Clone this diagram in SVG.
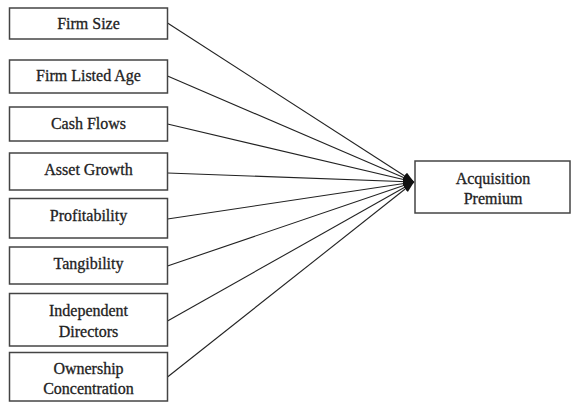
<svg xmlns="http://www.w3.org/2000/svg" width="571" height="403" viewBox="0 0 571 403">
  <style>
    .box { fill: #ffffff; stroke: #444444; stroke-width: 1.5; }
    .lbl { font-family: "Liberation Serif", "Times New Roman", serif; font-size: 16px; fill: #222222; stroke: #222222; stroke-width: 0.3; text-anchor: middle; }
    .edge { stroke: #222222; stroke-width: 1.1; fill: none; marker-end: url(#arrow); }
  </style>
  <defs>
    <marker id="arrow" markerUnits="userSpaceOnUse" markerWidth="12" markerHeight="10" refX="11" refY="4" orient="auto">
      <path d="M0,0 L11,4 L0,8 Z" fill="#111111"/>
    </marker>
  </defs>
  <rect width="571" height="403" fill="#ffffff"/>

  <g id="connectors">
    <line class="edge" x1="167.5" y1="23" x2="414" y2="182"/>
    <line class="edge" x1="167.5" y1="76" x2="414" y2="182"/>
    <line class="edge" x1="167.5" y1="124" x2="414" y2="182"/>
    <line class="edge" x1="167.5" y1="173" x2="414" y2="182"/>
    <line class="edge" x1="167.5" y1="219" x2="414" y2="182"/>
    <line class="edge" x1="167.5" y1="266" x2="414" y2="182"/>
    <line class="edge" x1="167.5" y1="321" x2="414" y2="182"/>
    <line class="edge" x1="167.5" y1="377" x2="414" y2="182"/>
  </g>

  <g id="firm-size">
    <rect class="box" x="9.5" y="8" width="158" height="31"/>
    <text class="lbl" x="88.5" y="29">Firm Size</text>
  </g>
  <g id="firm-listed-age">
    <rect class="box" x="9.5" y="60" width="158" height="33"/>
    <text class="lbl" x="88.5" y="81">Firm Listed Age</text>
  </g>
  <g id="cash-flows">
    <rect class="box" x="9.5" y="107" width="158" height="34"/>
    <text class="lbl" x="88.5" y="128.5">Cash Flows</text>
  </g>
  <g id="asset-growth">
    <rect class="box" x="9.5" y="153" width="158" height="37"/>
    <text class="lbl" x="88.5" y="174.5">Asset Growth</text>
  </g>
  <g id="profitability">
    <rect class="box" x="9.5" y="198.5" width="158" height="39.5"/>
    <text class="lbl" x="88.5" y="220.5">Profitability</text>
  </g>
  <g id="tangibility">
    <rect class="box" x="9.5" y="247" width="158" height="37"/>
    <text class="lbl" x="88.5" y="268.5">Tangibility</text>
  </g>
  <g id="independent-directors">
    <rect class="box" x="9.5" y="293.5" width="158" height="52.5"/>
    <text class="lbl" x="88.5" y="315.5">Independent</text>
    <text class="lbl" x="88.5" y="336.5">Directors</text>
  </g>
  <g id="ownership-concentration">
    <rect class="box" x="9.5" y="352.5" width="158" height="48.5"/>
    <text class="lbl" x="88.5" y="373.5">Ownership</text>
    <text class="lbl" x="88.5" y="393.5">Concentration</text>
  </g>
  <g id="acquisition-premium">
    <rect class="box" x="415" y="161" width="155" height="52"/>
    <text class="lbl" x="493" y="183.5">Acquisition</text>
    <text class="lbl" x="493" y="203.5">Premium</text>
  </g>
</svg>
